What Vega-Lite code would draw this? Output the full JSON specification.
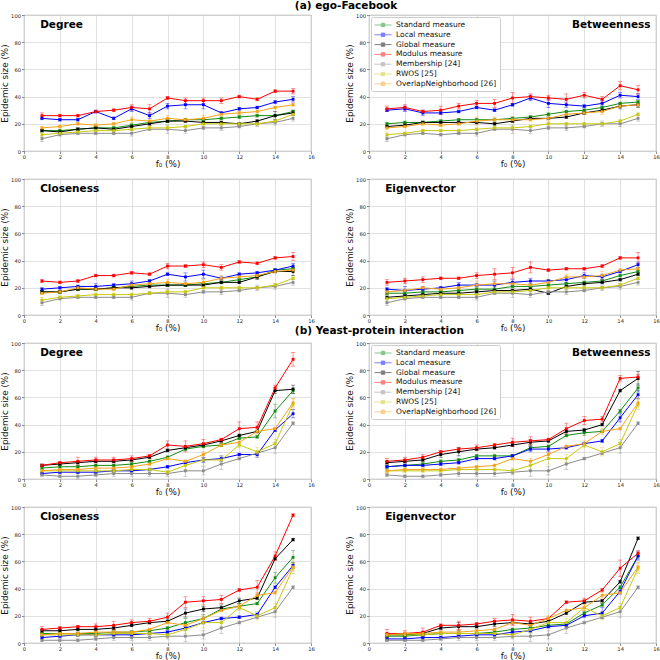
{
"$schema":"https://vega.github.io/schema/vega-lite/v6.json",
"background":"white",
"padding":{"left":0,"top":0,"right":0,"bottom":0},
"columns":2,
"bounds":"flush",
"spacing":{"row":28,"column":58},
"config":{
 "font":"DejaVu Sans",
 "view":{"stroke":"#7f7f7f","strokeWidth":0.8},
 "axis":{"grid":true,"gridColor":"#d9d9d9","gridWidth":0.8,"domain":false,"tickColor":"#444","tickSize":2.5,"tickWidth":0.6,"labelFontSize":5.2,"labelColor":"#222","labelPadding":1,"titleFontSize":8.8,"titleFontWeight":"normal","titleColor":"#111","labelFlush":false},
 "axisX":{"titlePadding":0},
 "axisY":{"titlePadding":1},
 "line":{"strokeWidth":1},
 "point":{"filled":true,"shape":"square","size":8,"opacity":1},
 "text":{"fontSize":10.5,"fontWeight":"bold","baseline":"middle","align":"left"},
 "legend":{"orient":"none","legendX":2,"legendY":2,"symbolType":"M-2,0H2M-0.4,-0.4H0.4V0.4H-0.4Z","symbolSize":72,"symbolStrokeWidth":1,"labelFontSize":7.5,"labelColor":"#111","fillColor":"white","strokeColor":"#cccccc","padding":3,"rowPadding":0.8,"symbolOffset":4,"labelOffset":8,"cornerRadius":2}
},
"data":{"values":[
{"p":"aD","s":"S","x":1,"y":15,"e":1,"n":"Degree"},{"p":"aD","s":"S","x":2,"y":15,"e":1},{"p":"aD","s":"S","x":3,"y":16,"e":1},{"p":"aD","s":"S","x":4,"y":17,"e":1},{"p":"aD","s":"S","x":5,"y":17,"e":1},{"p":"aD","s":"S","x":6,"y":19,"e":1},{"p":"aD","s":"S","x":7,"y":21,"e":1},{"p":"aD","s":"S","x":8,"y":22,"e":1},{"p":"aD","s":"S","x":9,"y":23,"e":1},{"p":"aD","s":"S","x":10,"y":23,"e":1},{"p":"aD","s":"S","x":11,"y":24,"e":1},{"p":"aD","s":"S","x":12,"y":25,"e":1},{"p":"aD","s":"S","x":13,"y":26,"e":1},{"p":"aD","s":"S","x":14,"y":26,"e":1},{"p":"aD","s":"S","x":15,"y":29,"e":1},
{"p":"aD","s":"L","x":1,"y":24,"e":1},{"p":"aD","s":"L","x":2,"y":23,"e":1},{"p":"aD","s":"L","x":3,"y":23,"e":1},{"p":"aD","s":"L","x":4,"y":29,"e":1},{"p":"aD","s":"L","x":5,"y":24,"e":1},{"p":"aD","s":"L","x":6,"y":31,"e":2},{"p":"aD","s":"L","x":7,"y":26,"e":2},{"p":"aD","s":"L","x":8,"y":33,"e":2},{"p":"aD","s":"L","x":9,"y":34,"e":3},{"p":"aD","s":"L","x":10,"y":34,"e":3},{"p":"aD","s":"L","x":11,"y":28,"e":1},{"p":"aD","s":"L","x":12,"y":31,"e":1},{"p":"aD","s":"L","x":13,"y":32,"e":1},{"p":"aD","s":"L","x":14,"y":36,"e":1},{"p":"aD","s":"L","x":15,"y":38,"e":2},
{"p":"aD","s":"G","x":1,"y":15,"e":1},{"p":"aD","s":"G","x":2,"y":14,"e":1},{"p":"aD","s":"G","x":3,"y":16,"e":1},{"p":"aD","s":"G","x":4,"y":17,"e":1},{"p":"aD","s":"G","x":5,"y":16,"e":1},{"p":"aD","s":"G","x":6,"y":18,"e":1},{"p":"aD","s":"G","x":7,"y":20,"e":1},{"p":"aD","s":"G","x":8,"y":22,"e":1},{"p":"aD","s":"G","x":9,"y":22,"e":1},{"p":"aD","s":"G","x":10,"y":21,"e":1},{"p":"aD","s":"G","x":11,"y":21,"e":1},{"p":"aD","s":"G","x":12,"y":20,"e":1},{"p":"aD","s":"G","x":13,"y":22,"e":1},{"p":"aD","s":"G","x":14,"y":26,"e":3},{"p":"aD","s":"G","x":15,"y":28,"e":2},
{"p":"aD","s":"M","x":1,"y":26,"e":2},{"p":"aD","s":"M","x":2,"y":26,"e":1},{"p":"aD","s":"M","x":3,"y":26,"e":1},{"p":"aD","s":"M","x":4,"y":29,"e":1},{"p":"aD","s":"M","x":5,"y":30,"e":1},{"p":"aD","s":"M","x":6,"y":32,"e":2},{"p":"aD","s":"M","x":7,"y":31,"e":3},{"p":"aD","s":"M","x":8,"y":39,"e":1},{"p":"aD","s":"M","x":9,"y":37,"e":2},{"p":"aD","s":"M","x":10,"y":37,"e":2},{"p":"aD","s":"M","x":11,"y":37,"e":2},{"p":"aD","s":"M","x":12,"y":40,"e":1},{"p":"aD","s":"M","x":13,"y":38,"e":1},{"p":"aD","s":"M","x":14,"y":44,"e":1},{"p":"aD","s":"M","x":15,"y":44,"e":2},
{"p":"aD","s":"B","x":1,"y":9,"e":2},{"p":"aD","s":"B","x":2,"y":12,"e":1},{"p":"aD","s":"B","x":3,"y":13,"e":1},{"p":"aD","s":"B","x":4,"y":13,"e":1},{"p":"aD","s":"B","x":5,"y":13,"e":1},{"p":"aD","s":"B","x":6,"y":13,"e":2},{"p":"aD","s":"B","x":7,"y":16,"e":1},{"p":"aD","s":"B","x":8,"y":16,"e":3},{"p":"aD","s":"B","x":9,"y":15,"e":2},{"p":"aD","s":"B","x":10,"y":17,"e":1},{"p":"aD","s":"B","x":11,"y":17,"e":2},{"p":"aD","s":"B","x":12,"y":18,"e":1},{"p":"aD","s":"B","x":13,"y":20,"e":2},{"p":"aD","s":"B","x":14,"y":21,"e":2},{"p":"aD","s":"B","x":15,"y":24,"e":2},
{"p":"aD","s":"R","x":1,"y":12,"e":2},{"p":"aD","s":"R","x":2,"y":13,"e":1},{"p":"aD","s":"R","x":3,"y":14,"e":1},{"p":"aD","s":"R","x":4,"y":15,"e":1},{"p":"aD","s":"R","x":5,"y":15,"e":1},{"p":"aD","s":"R","x":6,"y":16,"e":1},{"p":"aD","s":"R","x":7,"y":17,"e":1},{"p":"aD","s":"R","x":8,"y":17,"e":1},{"p":"aD","s":"R","x":9,"y":18,"e":1},{"p":"aD","s":"R","x":10,"y":20,"e":1},{"p":"aD","s":"R","x":11,"y":20,"e":1},{"p":"aD","s":"R","x":12,"y":20,"e":1},{"p":"aD","s":"R","x":13,"y":20,"e":1},{"p":"aD","s":"R","x":14,"y":22,"e":1},{"p":"aD","s":"R","x":15,"y":27,"e":1},
{"p":"aD","s":"O","x":1,"y":17,"e":1},{"p":"aD","s":"O","x":2,"y":18,"e":1},{"p":"aD","s":"O","x":3,"y":20,"e":1},{"p":"aD","s":"O","x":4,"y":19,"e":1},{"p":"aD","s":"O","x":5,"y":20,"e":1},{"p":"aD","s":"O","x":6,"y":23,"e":2},{"p":"aD","s":"O","x":7,"y":22,"e":3},{"p":"aD","s":"O","x":8,"y":24,"e":2},{"p":"aD","s":"O","x":9,"y":23,"e":1},{"p":"aD","s":"O","x":10,"y":24,"e":2},{"p":"aD","s":"O","x":11,"y":27,"e":2},{"p":"aD","s":"O","x":12,"y":28,"e":1},{"p":"aD","s":"O","x":13,"y":29,"e":2},{"p":"aD","s":"O","x":14,"y":32,"e":1},{"p":"aD","s":"O","x":15,"y":34,"e":1},

{"p":"aB","s":"S","x":1,"y":20,"e":1,"n":"Betweenness"},{"p":"aB","s":"S","x":2,"y":21,"e":1},{"p":"aB","s":"S","x":3,"y":21,"e":1},{"p":"aB","s":"S","x":4,"y":22,"e":1},{"p":"aB","s":"S","x":5,"y":23,"e":1},{"p":"aB","s":"S","x":6,"y":23,"e":1},{"p":"aB","s":"S","x":7,"y":23,"e":1},{"p":"aB","s":"S","x":8,"y":24,"e":1},{"p":"aB","s":"S","x":9,"y":25,"e":1},{"p":"aB","s":"S","x":10,"y":27,"e":1},{"p":"aB","s":"S","x":11,"y":29,"e":1},{"p":"aB","s":"S","x":12,"y":30,"e":1},{"p":"aB","s":"S","x":13,"y":32,"e":1},{"p":"aB","s":"S","x":14,"y":35,"e":1},{"p":"aB","s":"S","x":15,"y":36,"e":1},
{"p":"aB","s":"L","x":1,"y":30,"e":1},{"p":"aB","s":"L","x":2,"y":31,"e":2},{"p":"aB","s":"L","x":3,"y":28,"e":2},{"p":"aB","s":"L","x":4,"y":28,"e":1},{"p":"aB","s":"L","x":5,"y":29,"e":1},{"p":"aB","s":"L","x":6,"y":32,"e":1},{"p":"aB","s":"L","x":7,"y":30,"e":1},{"p":"aB","s":"L","x":8,"y":34,"e":1},{"p":"aB","s":"L","x":9,"y":39,"e":2},{"p":"aB","s":"L","x":10,"y":35,"e":3},{"p":"aB","s":"L","x":11,"y":34,"e":2},{"p":"aB","s":"L","x":12,"y":33,"e":1},{"p":"aB","s":"L","x":13,"y":35,"e":2},{"p":"aB","s":"L","x":14,"y":41,"e":2},{"p":"aB","s":"L","x":15,"y":40,"e":2},
{"p":"aB","s":"G","x":1,"y":18,"e":1},{"p":"aB","s":"G","x":2,"y":19,"e":1},{"p":"aB","s":"G","x":3,"y":21,"e":1},{"p":"aB","s":"G","x":4,"y":21,"e":1},{"p":"aB","s":"G","x":5,"y":21,"e":1},{"p":"aB","s":"G","x":6,"y":21,"e":1},{"p":"aB","s":"G","x":7,"y":20,"e":1},{"p":"aB","s":"G","x":8,"y":22,"e":1},{"p":"aB","s":"G","x":9,"y":24,"e":1},{"p":"aB","s":"G","x":10,"y":24,"e":1},{"p":"aB","s":"G","x":11,"y":25,"e":1},{"p":"aB","s":"G","x":12,"y":28,"e":1},{"p":"aB","s":"G","x":13,"y":30,"e":1},{"p":"aB","s":"G","x":14,"y":33,"e":2},{"p":"aB","s":"G","x":15,"y":34,"e":2},
{"p":"aB","s":"M","x":1,"y":31,"e":2},{"p":"aB","s":"M","x":2,"y":32,"e":2},{"p":"aB","s":"M","x":3,"y":29,"e":1},{"p":"aB","s":"M","x":4,"y":30,"e":3},{"p":"aB","s":"M","x":5,"y":33,"e":2},{"p":"aB","s":"M","x":6,"y":35,"e":2},{"p":"aB","s":"M","x":7,"y":35,"e":3},{"p":"aB","s":"M","x":8,"y":39,"e":4},{"p":"aB","s":"M","x":9,"y":40,"e":2},{"p":"aB","s":"M","x":10,"y":39,"e":2},{"p":"aB","s":"M","x":11,"y":38,"e":4},{"p":"aB","s":"M","x":12,"y":41,"e":2},{"p":"aB","s":"M","x":13,"y":38,"e":2},{"p":"aB","s":"M","x":14,"y":48,"e":3},{"p":"aB","s":"M","x":15,"y":45,"e":3},
{"p":"aB","s":"B","x":1,"y":9,"e":2},{"p":"aB","s":"B","x":2,"y":12,"e":1},{"p":"aB","s":"B","x":3,"y":13,"e":1},{"p":"aB","s":"B","x":4,"y":12,"e":1},{"p":"aB","s":"B","x":5,"y":13,"e":1},{"p":"aB","s":"B","x":6,"y":13,"e":2},{"p":"aB","s":"B","x":7,"y":16,"e":1},{"p":"aB","s":"B","x":8,"y":16,"e":3},{"p":"aB","s":"B","x":9,"y":15,"e":2},{"p":"aB","s":"B","x":10,"y":17,"e":1},{"p":"aB","s":"B","x":11,"y":17,"e":2},{"p":"aB","s":"B","x":12,"y":18,"e":1},{"p":"aB","s":"B","x":13,"y":20,"e":2},{"p":"aB","s":"B","x":14,"y":20,"e":2},{"p":"aB","s":"B","x":15,"y":24,"e":2},
{"p":"aB","s":"R","x":1,"y":12,"e":2},{"p":"aB","s":"R","x":2,"y":13,"e":1},{"p":"aB","s":"R","x":3,"y":15,"e":1},{"p":"aB","s":"R","x":4,"y":15,"e":1},{"p":"aB","s":"R","x":5,"y":15,"e":1},{"p":"aB","s":"R","x":6,"y":16,"e":1},{"p":"aB","s":"R","x":7,"y":17,"e":1},{"p":"aB","s":"R","x":8,"y":17,"e":1},{"p":"aB","s":"R","x":9,"y":18,"e":1},{"p":"aB","s":"R","x":10,"y":20,"e":1},{"p":"aB","s":"R","x":11,"y":20,"e":1},{"p":"aB","s":"R","x":12,"y":20,"e":1},{"p":"aB","s":"R","x":13,"y":20,"e":1},{"p":"aB","s":"R","x":14,"y":22,"e":1},{"p":"aB","s":"R","x":15,"y":27,"e":1},
{"p":"aB","s":"O","x":1,"y":17,"e":1},{"p":"aB","s":"O","x":2,"y":18,"e":1},{"p":"aB","s":"O","x":3,"y":20,"e":1},{"p":"aB","s":"O","x":4,"y":19,"e":1},{"p":"aB","s":"O","x":5,"y":20,"e":1},{"p":"aB","s":"O","x":6,"y":22,"e":3},{"p":"aB","s":"O","x":7,"y":23,"e":2},{"p":"aB","s":"O","x":8,"y":23,"e":2},{"p":"aB","s":"O","x":9,"y":23,"e":1},{"p":"aB","s":"O","x":10,"y":24,"e":2},{"p":"aB","s":"O","x":11,"y":27,"e":2},{"p":"aB","s":"O","x":12,"y":28,"e":1},{"p":"aB","s":"O","x":13,"y":29,"e":2},{"p":"aB","s":"O","x":14,"y":33,"e":1},{"p":"aB","s":"O","x":15,"y":34,"e":1},

{"p":"aC","s":"S","x":1,"y":17,"e":1,"n":"Closeness"},{"p":"aC","s":"S","x":2,"y":17,"e":1},{"p":"aC","s":"S","x":3,"y":19,"e":1},{"p":"aC","s":"S","x":4,"y":19,"e":1},{"p":"aC","s":"S","x":5,"y":20,"e":1},{"p":"aC","s":"S","x":6,"y":21,"e":1},{"p":"aC","s":"S","x":7,"y":22,"e":1},{"p":"aC","s":"S","x":8,"y":22,"e":1},{"p":"aC","s":"S","x":9,"y":22,"e":1},{"p":"aC","s":"S","x":10,"y":23,"e":1},{"p":"aC","s":"S","x":11,"y":24,"e":1},{"p":"aC","s":"S","x":12,"y":26,"e":1},{"p":"aC","s":"S","x":13,"y":28,"e":1},{"p":"aC","s":"S","x":14,"y":33,"e":1},{"p":"aC","s":"S","x":15,"y":34,"e":1},
{"p":"aC","s":"L","x":1,"y":19,"e":1},{"p":"aC","s":"L","x":2,"y":20,"e":1},{"p":"aC","s":"L","x":3,"y":21,"e":1},{"p":"aC","s":"L","x":4,"y":21,"e":2},{"p":"aC","s":"L","x":5,"y":22,"e":1},{"p":"aC","s":"L","x":6,"y":23,"e":2},{"p":"aC","s":"L","x":7,"y":25,"e":1},{"p":"aC","s":"L","x":8,"y":30,"e":1},{"p":"aC","s":"L","x":9,"y":28,"e":3},{"p":"aC","s":"L","x":10,"y":30,"e":3},{"p":"aC","s":"L","x":11,"y":27,"e":1},{"p":"aC","s":"L","x":12,"y":30,"e":1},{"p":"aC","s":"L","x":13,"y":31,"e":1},{"p":"aC","s":"L","x":14,"y":33,"e":1},{"p":"aC","s":"L","x":15,"y":36,"e":2},
{"p":"aC","s":"G","x":1,"y":17,"e":1},{"p":"aC","s":"G","x":2,"y":17,"e":1},{"p":"aC","s":"G","x":3,"y":19,"e":1},{"p":"aC","s":"G","x":4,"y":19,"e":1},{"p":"aC","s":"G","x":5,"y":20,"e":1},{"p":"aC","s":"G","x":6,"y":20,"e":1},{"p":"aC","s":"G","x":7,"y":21,"e":1},{"p":"aC","s":"G","x":8,"y":22,"e":1},{"p":"aC","s":"G","x":9,"y":22,"e":1},{"p":"aC","s":"G","x":10,"y":22,"e":1},{"p":"aC","s":"G","x":11,"y":24,"e":1},{"p":"aC","s":"G","x":12,"y":24,"e":1},{"p":"aC","s":"G","x":13,"y":28,"e":2},{"p":"aC","s":"G","x":14,"y":32,"e":1},{"p":"aC","s":"G","x":15,"y":32,"e":3},
{"p":"aC","s":"M","x":1,"y":25,"e":1},{"p":"aC","s":"M","x":2,"y":24,"e":1},{"p":"aC","s":"M","x":3,"y":25,"e":1},{"p":"aC","s":"M","x":4,"y":29,"e":1},{"p":"aC","s":"M","x":5,"y":29,"e":1},{"p":"aC","s":"M","x":6,"y":31,"e":1},{"p":"aC","s":"M","x":7,"y":30,"e":1},{"p":"aC","s":"M","x":8,"y":36,"e":2},{"p":"aC","s":"M","x":9,"y":36,"e":1},{"p":"aC","s":"M","x":10,"y":37,"e":2},{"p":"aC","s":"M","x":11,"y":35,"e":2},{"p":"aC","s":"M","x":12,"y":39,"e":1},{"p":"aC","s":"M","x":13,"y":38,"e":1},{"p":"aC","s":"M","x":14,"y":42,"e":1},{"p":"aC","s":"M","x":15,"y":43,"e":3},
{"p":"aC","s":"B","x":1,"y":9,"e":2},{"p":"aC","s":"B","x":2,"y":12,"e":1},{"p":"aC","s":"B","x":3,"y":13,"e":1},{"p":"aC","s":"B","x":4,"y":13,"e":1},{"p":"aC","s":"B","x":5,"y":13,"e":1},{"p":"aC","s":"B","x":6,"y":13,"e":2},{"p":"aC","s":"B","x":7,"y":16,"e":1},{"p":"aC","s":"B","x":8,"y":16,"e":3},{"p":"aC","s":"B","x":9,"y":15,"e":2},{"p":"aC","s":"B","x":10,"y":17,"e":1},{"p":"aC","s":"B","x":11,"y":17,"e":2},{"p":"aC","s":"B","x":12,"y":18,"e":1},{"p":"aC","s":"B","x":13,"y":20,"e":2},{"p":"aC","s":"B","x":14,"y":21,"e":2},{"p":"aC","s":"B","x":15,"y":24,"e":2},
{"p":"aC","s":"R","x":1,"y":11,"e":2},{"p":"aC","s":"R","x":2,"y":13,"e":1},{"p":"aC","s":"R","x":3,"y":14,"e":1},{"p":"aC","s":"R","x":4,"y":15,"e":1},{"p":"aC","s":"R","x":5,"y":15,"e":1},{"p":"aC","s":"R","x":6,"y":15,"e":1},{"p":"aC","s":"R","x":7,"y":16,"e":1},{"p":"aC","s":"R","x":8,"y":17,"e":1},{"p":"aC","s":"R","x":9,"y":17,"e":1},{"p":"aC","s":"R","x":10,"y":20,"e":1},{"p":"aC","s":"R","x":11,"y":20,"e":1},{"p":"aC","s":"R","x":12,"y":20,"e":1},{"p":"aC","s":"R","x":13,"y":20,"e":1},{"p":"aC","s":"R","x":14,"y":22,"e":1},{"p":"aC","s":"R","x":15,"y":27,"e":1},
{"p":"aC","s":"O","x":1,"y":16,"e":1},{"p":"aC","s":"O","x":2,"y":17,"e":1},{"p":"aC","s":"O","x":3,"y":20,"e":1},{"p":"aC","s":"O","x":4,"y":19,"e":1},{"p":"aC","s":"O","x":5,"y":19,"e":1},{"p":"aC","s":"O","x":6,"y":22,"e":2},{"p":"aC","s":"O","x":7,"y":23,"e":2},{"p":"aC","s":"O","x":8,"y":24,"e":2},{"p":"aC","s":"O","x":9,"y":23,"e":1},{"p":"aC","s":"O","x":10,"y":24,"e":2},{"p":"aC","s":"O","x":11,"y":27,"e":2},{"p":"aC","s":"O","x":12,"y":28,"e":1},{"p":"aC","s":"O","x":13,"y":29,"e":2},{"p":"aC","s":"O","x":14,"y":32,"e":1},{"p":"aC","s":"O","x":15,"y":33,"e":1},

{"p":"aE","s":"S","x":1,"y":16,"e":1,"n":"Eigenvector"},{"p":"aE","s":"S","x":2,"y":16,"e":1},{"p":"aE","s":"S","x":3,"y":17,"e":1},{"p":"aE","s":"S","x":4,"y":17,"e":1},{"p":"aE","s":"S","x":5,"y":18,"e":1},{"p":"aE","s":"S","x":6,"y":19,"e":1},{"p":"aE","s":"S","x":7,"y":19,"e":1},{"p":"aE","s":"S","x":8,"y":21,"e":1},{"p":"aE","s":"S","x":9,"y":21,"e":1},{"p":"aE","s":"S","x":10,"y":22,"e":1},{"p":"aE","s":"S","x":11,"y":23,"e":1},{"p":"aE","s":"S","x":12,"y":24,"e":1},{"p":"aE","s":"S","x":13,"y":25,"e":1},{"p":"aE","s":"S","x":14,"y":29,"e":1},{"p":"aE","s":"S","x":15,"y":32,"e":1},
{"p":"aE","s":"L","x":1,"y":19,"e":1},{"p":"aE","s":"L","x":2,"y":18,"e":3},{"p":"aE","s":"L","x":3,"y":19,"e":2},{"p":"aE","s":"L","x":4,"y":20,"e":1},{"p":"aE","s":"L","x":5,"y":22,"e":2},{"p":"aE","s":"L","x":6,"y":22,"e":1},{"p":"aE","s":"L","x":7,"y":22,"e":3},{"p":"aE","s":"L","x":8,"y":24,"e":2},{"p":"aE","s":"L","x":9,"y":25,"e":2},{"p":"aE","s":"L","x":10,"y":25,"e":1},{"p":"aE","s":"L","x":11,"y":26,"e":2},{"p":"aE","s":"L","x":12,"y":29,"e":2},{"p":"aE","s":"L","x":13,"y":28,"e":2},{"p":"aE","s":"L","x":14,"y":32,"e":1},{"p":"aE","s":"L","x":15,"y":37,"e":2},
{"p":"aE","s":"G","x":1,"y":13,"e":1},{"p":"aE","s":"G","x":2,"y":14,"e":1},{"p":"aE","s":"G","x":3,"y":15,"e":1},{"p":"aE","s":"G","x":4,"y":16,"e":1},{"p":"aE","s":"G","x":5,"y":16,"e":1},{"p":"aE","s":"G","x":6,"y":17,"e":1},{"p":"aE","s":"G","x":7,"y":18,"e":1},{"p":"aE","s":"G","x":8,"y":18,"e":1},{"p":"aE","s":"G","x":9,"y":19,"e":1},{"p":"aE","s":"G","x":10,"y":16,"e":1},{"p":"aE","s":"G","x":11,"y":21,"e":1},{"p":"aE","s":"G","x":12,"y":23,"e":1},{"p":"aE","s":"G","x":13,"y":24,"e":1},{"p":"aE","s":"G","x":14,"y":26,"e":1},{"p":"aE","s":"G","x":15,"y":30,"e":1},
{"p":"aE","s":"M","x":1,"y":24,"e":2},{"p":"aE","s":"M","x":2,"y":25,"e":2},{"p":"aE","s":"M","x":3,"y":26,"e":2},{"p":"aE","s":"M","x":4,"y":27,"e":1},{"p":"aE","s":"M","x":5,"y":27,"e":1},{"p":"aE","s":"M","x":6,"y":29,"e":2},{"p":"aE","s":"M","x":7,"y":30,"e":4},{"p":"aE","s":"M","x":8,"y":31,"e":4},{"p":"aE","s":"M","x":9,"y":35,"e":4},{"p":"aE","s":"M","x":10,"y":33,"e":1},{"p":"aE","s":"M","x":11,"y":34,"e":1},{"p":"aE","s":"M","x":12,"y":34,"e":1},{"p":"aE","s":"M","x":13,"y":36,"e":1},{"p":"aE","s":"M","x":14,"y":42,"e":1},{"p":"aE","s":"M","x":15,"y":42,"e":4},
{"p":"aE","s":"B","x":1,"y":9,"e":2},{"p":"aE","s":"B","x":2,"y":12,"e":1},{"p":"aE","s":"B","x":3,"y":13,"e":1},{"p":"aE","s":"B","x":4,"y":13,"e":1},{"p":"aE","s":"B","x":5,"y":13,"e":1},{"p":"aE","s":"B","x":6,"y":13,"e":2},{"p":"aE","s":"B","x":7,"y":16,"e":1},{"p":"aE","s":"B","x":8,"y":16,"e":3},{"p":"aE","s":"B","x":9,"y":15,"e":2},{"p":"aE","s":"B","x":10,"y":17,"e":1},{"p":"aE","s":"B","x":11,"y":17,"e":2},{"p":"aE","s":"B","x":12,"y":18,"e":1},{"p":"aE","s":"B","x":13,"y":20,"e":2},{"p":"aE","s":"B","x":14,"y":21,"e":2},{"p":"aE","s":"B","x":15,"y":24,"e":2},
{"p":"aE","s":"R","x":1,"y":12,"e":2},{"p":"aE","s":"R","x":2,"y":13,"e":1},{"p":"aE","s":"R","x":3,"y":14,"e":1},{"p":"aE","s":"R","x":4,"y":15,"e":1},{"p":"aE","s":"R","x":5,"y":15,"e":1},{"p":"aE","s":"R","x":6,"y":15,"e":1},{"p":"aE","s":"R","x":7,"y":17,"e":1},{"p":"aE","s":"R","x":8,"y":17,"e":1},{"p":"aE","s":"R","x":9,"y":18,"e":1},{"p":"aE","s":"R","x":10,"y":20,"e":1},{"p":"aE","s":"R","x":11,"y":20,"e":1},{"p":"aE","s":"R","x":12,"y":20,"e":1},{"p":"aE","s":"R","x":13,"y":20,"e":1},{"p":"aE","s":"R","x":14,"y":22,"e":1},{"p":"aE","s":"R","x":15,"y":27,"e":1},
{"p":"aE","s":"O","x":1,"y":17,"e":1},{"p":"aE","s":"O","x":2,"y":18,"e":1},{"p":"aE","s":"O","x":3,"y":20,"e":1},{"p":"aE","s":"O","x":4,"y":19,"e":1},{"p":"aE","s":"O","x":5,"y":20,"e":1},{"p":"aE","s":"O","x":6,"y":22,"e":3},{"p":"aE","s":"O","x":7,"y":23,"e":2},{"p":"aE","s":"O","x":8,"y":23,"e":2},{"p":"aE","s":"O","x":9,"y":22,"e":1},{"p":"aE","s":"O","x":10,"y":24,"e":2},{"p":"aE","s":"O","x":11,"y":28,"e":2},{"p":"aE","s":"O","x":12,"y":28,"e":1},{"p":"aE","s":"O","x":13,"y":29,"e":3},{"p":"aE","s":"O","x":14,"y":33,"e":1},{"p":"aE","s":"O","x":15,"y":34,"e":1},

{"p":"bD","s":"S","x":1,"y":8,"e":1,"n":"Degree"},{"p":"bD","s":"S","x":2,"y":9,"e":1},{"p":"bD","s":"S","x":3,"y":9,"e":1},{"p":"bD","s":"S","x":4,"y":10,"e":1},{"p":"bD","s":"S","x":5,"y":10,"e":1},{"p":"bD","s":"S","x":6,"y":11,"e":1},{"p":"bD","s":"S","x":7,"y":13,"e":1},{"p":"bD","s":"S","x":8,"y":16,"e":1},{"p":"bD","s":"S","x":9,"y":22,"e":1},{"p":"bD","s":"S","x":10,"y":24,"e":1},{"p":"bD","s":"S","x":11,"y":25,"e":1},{"p":"bD","s":"S","x":12,"y":30,"e":1},{"p":"bD","s":"S","x":13,"y":31,"e":1},{"p":"bD","s":"S","x":14,"y":50,"e":5},{"p":"bD","s":"S","x":15,"y":65,"e":2},
{"p":"bD","s":"L","x":1,"y":4,"e":1},{"p":"bD","s":"L","x":2,"y":5,"e":1},{"p":"bD","s":"L","x":3,"y":5,"e":1},{"p":"bD","s":"L","x":4,"y":5,"e":1},{"p":"bD","s":"L","x":5,"y":6,"e":1},{"p":"bD","s":"L","x":6,"y":6,"e":1},{"p":"bD","s":"L","x":7,"y":7,"e":1},{"p":"bD","s":"L","x":8,"y":9,"e":1},{"p":"bD","s":"L","x":9,"y":12,"e":1},{"p":"bD","s":"L","x":10,"y":14,"e":2},{"p":"bD","s":"L","x":11,"y":15,"e":2},{"p":"bD","s":"L","x":12,"y":18,"e":1},{"p":"bD","s":"L","x":13,"y":18,"e":2},{"p":"bD","s":"L","x":14,"y":36,"e":1},{"p":"bD","s":"L","x":15,"y":48,"e":3},
{"p":"bD","s":"G","x":1,"y":10,"e":1},{"p":"bD","s":"G","x":2,"y":11,"e":1},{"p":"bD","s":"G","x":3,"y":12,"e":1},{"p":"bD","s":"G","x":4,"y":13,"e":1},{"p":"bD","s":"G","x":5,"y":13,"e":1},{"p":"bD","s":"G","x":6,"y":14,"e":1},{"p":"bD","s":"G","x":7,"y":16,"e":1},{"p":"bD","s":"G","x":8,"y":21,"e":1},{"p":"bD","s":"G","x":9,"y":23,"e":1},{"p":"bD","s":"G","x":10,"y":25,"e":1},{"p":"bD","s":"G","x":11,"y":28,"e":1},{"p":"bD","s":"G","x":12,"y":32,"e":1},{"p":"bD","s":"G","x":13,"y":35,"e":1},{"p":"bD","s":"G","x":14,"y":65,"e":2},{"p":"bD","s":"G","x":15,"y":66,"e":3},
{"p":"bD","s":"M","x":1,"y":10,"e":1},{"p":"bD","s":"M","x":2,"y":12,"e":1},{"p":"bD","s":"M","x":3,"y":13,"e":3},{"p":"bD","s":"M","x":4,"y":14,"e":2},{"p":"bD","s":"M","x":5,"y":14,"e":2},{"p":"bD","s":"M","x":6,"y":15,"e":2},{"p":"bD","s":"M","x":7,"y":17,"e":1},{"p":"bD","s":"M","x":8,"y":25,"e":3},{"p":"bD","s":"M","x":9,"y":24,"e":4},{"p":"bD","s":"M","x":10,"y":26,"e":3},{"p":"bD","s":"M","x":11,"y":29,"e":1},{"p":"bD","s":"M","x":12,"y":37,"e":5},{"p":"bD","s":"M","x":13,"y":38,"e":4},{"p":"bD","s":"M","x":14,"y":67,"e":2},{"p":"bD","s":"M","x":15,"y":88,"e":5},
{"p":"bD","s":"B","x":1,"y":3,"e":1},{"p":"bD","s":"B","x":2,"y":2,"e":1},{"p":"bD","s":"B","x":3,"y":2,"e":2},{"p":"bD","s":"B","x":4,"y":3,"e":1},{"p":"bD","s":"B","x":5,"y":4,"e":2},{"p":"bD","s":"B","x":6,"y":4,"e":2},{"p":"bD","s":"B","x":7,"y":4,"e":2},{"p":"bD","s":"B","x":8,"y":4,"e":2},{"p":"bD","s":"B","x":9,"y":6,"e":4},{"p":"bD","s":"B","x":10,"y":6,"e":3},{"p":"bD","s":"B","x":11,"y":11,"e":4},{"p":"bD","s":"B","x":12,"y":15,"e":1},{"p":"bD","s":"B","x":13,"y":19,"e":1},{"p":"bD","s":"B","x":14,"y":23,"e":4},{"p":"bD","s":"B","x":15,"y":41,"e":1},
{"p":"bD","s":"R","x":1,"y":6,"e":1},{"p":"bD","s":"R","x":2,"y":6,"e":1},{"p":"bD","s":"R","x":3,"y":6,"e":1},{"p":"bD","s":"R","x":4,"y":6,"e":1},{"p":"bD","s":"R","x":5,"y":6,"e":1},{"p":"bD","s":"R","x":6,"y":7,"e":1},{"p":"bD","s":"R","x":7,"y":7,"e":1},{"p":"bD","s":"R","x":8,"y":5,"e":1},{"p":"bD","s":"R","x":9,"y":10,"e":3},{"p":"bD","s":"R","x":10,"y":14,"e":4},{"p":"bD","s":"R","x":11,"y":14,"e":3},{"p":"bD","s":"R","x":12,"y":25,"e":2},{"p":"bD","s":"R","x":13,"y":20,"e":3},{"p":"bD","s":"R","x":14,"y":26,"e":3},{"p":"bD","s":"R","x":15,"y":55,"e":4},
{"p":"bD","s":"O","x":1,"y":6,"e":1},{"p":"bD","s":"O","x":2,"y":7,"e":1},{"p":"bD","s":"O","x":3,"y":7,"e":1},{"p":"bD","s":"O","x":4,"y":8,"e":1},{"p":"bD","s":"O","x":5,"y":8,"e":1},{"p":"bD","s":"O","x":6,"y":9,"e":1},{"p":"bD","s":"O","x":7,"y":11,"e":1},{"p":"bD","s":"O","x":8,"y":15,"e":1},{"p":"bD","s":"O","x":9,"y":13,"e":1},{"p":"bD","s":"O","x":10,"y":18,"e":2},{"p":"bD","s":"O","x":11,"y":25,"e":1},{"p":"bD","s":"O","x":12,"y":27,"e":2},{"p":"bD","s":"O","x":13,"y":35,"e":2},{"p":"bD","s":"O","x":14,"y":37,"e":1},{"p":"bD","s":"O","x":15,"y":56,"e":3},

{"p":"bB","s":"S","x":1,"y":9,"e":1,"n":"Betweenness"},{"p":"bB","s":"S","x":2,"y":10,"e":1},{"p":"bB","s":"S","x":3,"y":11,"e":1},{"p":"bB","s":"S","x":4,"y":13,"e":1},{"p":"bB","s":"S","x":5,"y":14,"e":1},{"p":"bB","s":"S","x":6,"y":17,"e":1},{"p":"bB","s":"S","x":7,"y":17,"e":1},{"p":"bB","s":"S","x":8,"y":17,"e":1},{"p":"bB","s":"S","x":9,"y":23,"e":2},{"p":"bB","s":"S","x":10,"y":24,"e":1},{"p":"bB","s":"S","x":11,"y":32,"e":1},{"p":"bB","s":"S","x":12,"y":34,"e":2},{"p":"bB","s":"S","x":13,"y":35,"e":1},{"p":"bB","s":"S","x":14,"y":50,"e":1},{"p":"bB","s":"S","x":15,"y":67,"e":3},
{"p":"bB","s":"L","x":1,"y":9,"e":1},{"p":"bB","s":"L","x":2,"y":10,"e":1},{"p":"bB","s":"L","x":3,"y":10,"e":1},{"p":"bB","s":"L","x":4,"y":11,"e":1},{"p":"bB","s":"L","x":5,"y":12,"e":1},{"p":"bB","s":"L","x":6,"y":15,"e":1},{"p":"bB","s":"L","x":7,"y":15,"e":1},{"p":"bB","s":"L","x":8,"y":17,"e":1},{"p":"bB","s":"L","x":9,"y":22,"e":2},{"p":"bB","s":"L","x":10,"y":22,"e":2},{"p":"bB","s":"L","x":11,"y":23,"e":1},{"p":"bB","s":"L","x":12,"y":26,"e":1},{"p":"bB","s":"L","x":13,"y":28,"e":1},{"p":"bB","s":"L","x":14,"y":45,"e":3},{"p":"bB","s":"L","x":15,"y":62,"e":3},
{"p":"bB","s":"G","x":1,"y":12,"e":1},{"p":"bB","s":"G","x":2,"y":13,"e":1},{"p":"bB","s":"G","x":3,"y":14,"e":1},{"p":"bB","s":"G","x":4,"y":18,"e":2},{"p":"bB","s":"G","x":5,"y":20,"e":3},{"p":"bB","s":"G","x":6,"y":22,"e":1},{"p":"bB","s":"G","x":7,"y":23,"e":1},{"p":"bB","s":"G","x":8,"y":25,"e":1},{"p":"bB","s":"G","x":9,"y":27,"e":2},{"p":"bB","s":"G","x":10,"y":28,"e":1},{"p":"bB","s":"G","x":11,"y":35,"e":1},{"p":"bB","s":"G","x":12,"y":36,"e":1},{"p":"bB","s":"G","x":13,"y":40,"e":1},{"p":"bB","s":"G","x":14,"y":65,"e":1},{"p":"bB","s":"G","x":15,"y":74,"e":5},
{"p":"bB","s":"M","x":1,"y":13,"e":2},{"p":"bB","s":"M","x":2,"y":14,"e":2},{"p":"bB","s":"M","x":3,"y":16,"e":2},{"p":"bB","s":"M","x":4,"y":20,"e":1},{"p":"bB","s":"M","x":5,"y":22,"e":1},{"p":"bB","s":"M","x":6,"y":23,"e":2},{"p":"bB","s":"M","x":7,"y":25,"e":1},{"p":"bB","s":"M","x":8,"y":27,"e":3},{"p":"bB","s":"M","x":9,"y":28,"e":3},{"p":"bB","s":"M","x":10,"y":29,"e":1},{"p":"bB","s":"M","x":11,"y":37,"e":4},{"p":"bB","s":"M","x":12,"y":43,"e":3},{"p":"bB","s":"M","x":13,"y":44,"e":2},{"p":"bB","s":"M","x":14,"y":74,"e":2},{"p":"bB","s":"M","x":15,"y":75,"e":2},
{"p":"bB","s":"B","x":1,"y":3,"e":1},{"p":"bB","s":"B","x":2,"y":2,"e":1},{"p":"bB","s":"B","x":3,"y":2,"e":1},{"p":"bB","s":"B","x":4,"y":3,"e":1},{"p":"bB","s":"B","x":5,"y":4,"e":2},{"p":"bB","s":"B","x":6,"y":4,"e":2},{"p":"bB","s":"B","x":7,"y":4,"e":2},{"p":"bB","s":"B","x":8,"y":5,"e":2},{"p":"bB","s":"B","x":9,"y":6,"e":4},{"p":"bB","s":"B","x":10,"y":6,"e":3},{"p":"bB","s":"B","x":11,"y":11,"e":4},{"p":"bB","s":"B","x":12,"y":15,"e":1},{"p":"bB","s":"B","x":13,"y":19,"e":1},{"p":"bB","s":"B","x":14,"y":23,"e":4},{"p":"bB","s":"B","x":15,"y":41,"e":1},
{"p":"bB","s":"R","x":1,"y":6,"e":1},{"p":"bB","s":"R","x":2,"y":6,"e":1},{"p":"bB","s":"R","x":3,"y":6,"e":1},{"p":"bB","s":"R","x":4,"y":6,"e":1},{"p":"bB","s":"R","x":5,"y":7,"e":1},{"p":"bB","s":"R","x":6,"y":7,"e":1},{"p":"bB","s":"R","x":7,"y":7,"e":1},{"p":"bB","s":"R","x":8,"y":6,"e":2},{"p":"bB","s":"R","x":9,"y":10,"e":3},{"p":"bB","s":"R","x":10,"y":15,"e":4},{"p":"bB","s":"R","x":11,"y":15,"e":3},{"p":"bB","s":"R","x":12,"y":25,"e":2},{"p":"bB","s":"R","x":13,"y":20,"e":3},{"p":"bB","s":"R","x":14,"y":26,"e":3},{"p":"bB","s":"R","x":15,"y":55,"e":4},
{"p":"bB","s":"O","x":1,"y":6,"e":1},{"p":"bB","s":"O","x":2,"y":7,"e":1},{"p":"bB","s":"O","x":3,"y":7,"e":1},{"p":"bB","s":"O","x":4,"y":7,"e":1},{"p":"bB","s":"O","x":5,"y":8,"e":1},{"p":"bB","s":"O","x":6,"y":9,"e":1},{"p":"bB","s":"O","x":7,"y":10,"e":1},{"p":"bB","s":"O","x":8,"y":15,"e":1},{"p":"bB","s":"O","x":9,"y":13,"e":2},{"p":"bB","s":"O","x":10,"y":18,"e":2},{"p":"bB","s":"O","x":11,"y":24,"e":1},{"p":"bB","s":"O","x":12,"y":26,"e":2},{"p":"bB","s":"O","x":13,"y":35,"e":2},{"p":"bB","s":"O","x":14,"y":37,"e":1},{"p":"bB","s":"O","x":15,"y":56,"e":3},

{"p":"bC","s":"S","x":1,"y":7,"e":1,"n":"Closeness"},{"p":"bC","s":"S","x":2,"y":7,"e":1},{"p":"bC","s":"S","x":3,"y":7,"e":1},{"p":"bC","s":"S","x":4,"y":7,"e":1},{"p":"bC","s":"S","x":5,"y":8,"e":1},{"p":"bC","s":"S","x":6,"y":8,"e":1},{"p":"bC","s":"S","x":7,"y":9,"e":1},{"p":"bC","s":"S","x":8,"y":11,"e":1},{"p":"bC","s":"S","x":9,"y":15,"e":3},{"p":"bC","s":"S","x":10,"y":18,"e":3},{"p":"bC","s":"S","x":11,"y":25,"e":1},{"p":"bC","s":"S","x":12,"y":27,"e":2},{"p":"bC","s":"S","x":13,"y":29,"e":1},{"p":"bC","s":"S","x":14,"y":48,"e":4},{"p":"bC","s":"S","x":15,"y":63,"e":5},
{"p":"bC","s":"L","x":1,"y":4,"e":1},{"p":"bC","s":"L","x":2,"y":5,"e":1},{"p":"bC","s":"L","x":3,"y":6,"e":1},{"p":"bC","s":"L","x":4,"y":6,"e":1},{"p":"bC","s":"L","x":5,"y":6,"e":1},{"p":"bC","s":"L","x":6,"y":6,"e":1},{"p":"bC","s":"L","x":7,"y":7,"e":1},{"p":"bC","s":"L","x":8,"y":8,"e":1},{"p":"bC","s":"L","x":9,"y":11,"e":1},{"p":"bC","s":"L","x":10,"y":15,"e":1},{"p":"bC","s":"L","x":11,"y":18,"e":1},{"p":"bC","s":"L","x":12,"y":19,"e":1},{"p":"bC","s":"L","x":13,"y":21,"e":1},{"p":"bC","s":"L","x":14,"y":41,"e":1},{"p":"bC","s":"L","x":15,"y":57,"e":2},
{"p":"bC","s":"G","x":1,"y":9,"e":1},{"p":"bC","s":"G","x":2,"y":9,"e":1},{"p":"bC","s":"G","x":3,"y":10,"e":1},{"p":"bC","s":"G","x":4,"y":10,"e":1},{"p":"bC","s":"G","x":5,"y":11,"e":1},{"p":"bC","s":"G","x":6,"y":13,"e":1},{"p":"bC","s":"G","x":7,"y":15,"e":1},{"p":"bC","s":"G","x":8,"y":16,"e":1},{"p":"bC","s":"G","x":9,"y":22,"e":3},{"p":"bC","s":"G","x":10,"y":25,"e":2},{"p":"bC","s":"G","x":11,"y":26,"e":2},{"p":"bC","s":"G","x":12,"y":31,"e":2},{"p":"bC","s":"G","x":13,"y":33,"e":1},{"p":"bC","s":"G","x":14,"y":62,"e":1},{"p":"bC","s":"G","x":15,"y":76,"e":1},
{"p":"bC","s":"M","x":1,"y":10,"e":2},{"p":"bC","s":"M","x":2,"y":11,"e":1},{"p":"bC","s":"M","x":3,"y":12,"e":1},{"p":"bC","s":"M","x":4,"y":12,"e":2},{"p":"bC","s":"M","x":5,"y":13,"e":3},{"p":"bC","s":"M","x":6,"y":15,"e":2},{"p":"bC","s":"M","x":7,"y":16,"e":2},{"p":"bC","s":"M","x":8,"y":19,"e":3},{"p":"bC","s":"M","x":9,"y":30,"e":4},{"p":"bC","s":"M","x":10,"y":31,"e":3},{"p":"bC","s":"M","x":11,"y":32,"e":3},{"p":"bC","s":"M","x":12,"y":39,"e":1},{"p":"bC","s":"M","x":13,"y":41,"e":5},{"p":"bC","s":"M","x":14,"y":64,"e":3},{"p":"bC","s":"M","x":15,"y":94,"e":1},
{"p":"bC","s":"B","x":1,"y":2,"e":1},{"p":"bC","s":"B","x":2,"y":2,"e":1},{"p":"bC","s":"B","x":3,"y":2,"e":1},{"p":"bC","s":"B","x":4,"y":3,"e":1},{"p":"bC","s":"B","x":5,"y":4,"e":2},{"p":"bC","s":"B","x":6,"y":4,"e":2},{"p":"bC","s":"B","x":7,"y":4,"e":2},{"p":"bC","s":"B","x":8,"y":5,"e":2},{"p":"bC","s":"B","x":9,"y":5,"e":4},{"p":"bC","s":"B","x":10,"y":6,"e":3},{"p":"bC","s":"B","x":11,"y":11,"e":4},{"p":"bC","s":"B","x":12,"y":15,"e":1},{"p":"bC","s":"B","x":13,"y":19,"e":1},{"p":"bC","s":"B","x":14,"y":23,"e":4},{"p":"bC","s":"B","x":15,"y":41,"e":1},
{"p":"bC","s":"R","x":1,"y":6,"e":1},{"p":"bC","s":"R","x":2,"y":6,"e":1},{"p":"bC","s":"R","x":3,"y":6,"e":1},{"p":"bC","s":"R","x":4,"y":6,"e":1},{"p":"bC","s":"R","x":5,"y":7,"e":1},{"p":"bC","s":"R","x":6,"y":7,"e":1},{"p":"bC","s":"R","x":7,"y":7,"e":1},{"p":"bC","s":"R","x":8,"y":6,"e":2},{"p":"bC","s":"R","x":9,"y":10,"e":3},{"p":"bC","s":"R","x":10,"y":15,"e":4},{"p":"bC","s":"R","x":11,"y":15,"e":3},{"p":"bC","s":"R","x":12,"y":26,"e":2},{"p":"bC","s":"R","x":13,"y":20,"e":3},{"p":"bC","s":"R","x":14,"y":26,"e":3},{"p":"bC","s":"R","x":15,"y":55,"e":4},
{"p":"bC","s":"O","x":1,"y":6,"e":1},{"p":"bC","s":"O","x":2,"y":7,"e":1},{"p":"bC","s":"O","x":3,"y":7,"e":1},{"p":"bC","s":"O","x":4,"y":8,"e":1},{"p":"bC","s":"O","x":5,"y":8,"e":1},{"p":"bC","s":"O","x":6,"y":8,"e":1},{"p":"bC","s":"O","x":7,"y":10,"e":1},{"p":"bC","s":"O","x":8,"y":15,"e":1},{"p":"bC","s":"O","x":9,"y":13,"e":2},{"p":"bC","s":"O","x":10,"y":18,"e":2},{"p":"bC","s":"O","x":11,"y":24,"e":1},{"p":"bC","s":"O","x":12,"y":27,"e":2},{"p":"bC","s":"O","x":13,"y":35,"e":2},{"p":"bC","s":"O","x":14,"y":37,"e":1},{"p":"bC","s":"O","x":15,"y":56,"e":3},

{"p":"bE","s":"S","x":1,"y":5,"e":1,"n":"Eigenvector"},{"p":"bE","s":"S","x":2,"y":5,"e":1},{"p":"bE","s":"S","x":3,"y":6,"e":1},{"p":"bE","s":"S","x":4,"y":7,"e":1},{"p":"bE","s":"S","x":5,"y":7,"e":1},{"p":"bE","s":"S","x":6,"y":7,"e":1},{"p":"bE","s":"S","x":7,"y":8,"e":1},{"p":"bE","s":"S","x":8,"y":10,"e":1},{"p":"bE","s":"S","x":9,"y":11,"e":1},{"p":"bE","s":"S","x":10,"y":13,"e":1},{"p":"bE","s":"S","x":11,"y":14,"e":1},{"p":"bE","s":"S","x":12,"y":22,"e":1},{"p":"bE","s":"S","x":13,"y":28,"e":1},{"p":"bE","s":"S","x":14,"y":41,"e":1},{"p":"bE","s":"S","x":15,"y":64,"e":2},
{"p":"bE","s":"L","x":1,"y":3,"e":1},{"p":"bE","s":"L","x":2,"y":3,"e":1},{"p":"bE","s":"L","x":3,"y":4,"e":1},{"p":"bE","s":"L","x":4,"y":4,"e":1},{"p":"bE","s":"L","x":5,"y":5,"e":1},{"p":"bE","s":"L","x":6,"y":6,"e":1},{"p":"bE","s":"L","x":7,"y":6,"e":1},{"p":"bE","s":"L","x":8,"y":8,"e":1},{"p":"bE","s":"L","x":9,"y":9,"e":1},{"p":"bE","s":"L","x":10,"y":12,"e":1},{"p":"bE","s":"L","x":11,"y":13,"e":1},{"p":"bE","s":"L","x":12,"y":20,"e":1},{"p":"bE","s":"L","x":13,"y":22,"e":4},{"p":"bE","s":"L","x":14,"y":38,"e":2},{"p":"bE","s":"L","x":15,"y":64,"e":3},
{"p":"bE","s":"G","x":1,"y":6,"e":1},{"p":"bE","s":"G","x":2,"y":6,"e":1},{"p":"bE","s":"G","x":3,"y":7,"e":1},{"p":"bE","s":"G","x":4,"y":11,"e":1},{"p":"bE","s":"G","x":5,"y":12,"e":3},{"p":"bE","s":"G","x":6,"y":12,"e":1},{"p":"bE","s":"G","x":7,"y":14,"e":2},{"p":"bE","s":"G","x":8,"y":15,"e":1},{"p":"bE","s":"G","x":9,"y":14,"e":1},{"p":"bE","s":"G","x":10,"y":16,"e":1},{"p":"bE","s":"G","x":11,"y":22,"e":1},{"p":"bE","s":"G","x":12,"y":30,"e":1},{"p":"bE","s":"G","x":13,"y":31,"e":1},{"p":"bE","s":"G","x":14,"y":45,"e":1},{"p":"bE","s":"G","x":15,"y":77,"e":1},
{"p":"bE","s":"M","x":1,"y":7,"e":3},{"p":"bE","s":"M","x":2,"y":7,"e":2},{"p":"bE","s":"M","x":3,"y":8,"e":3},{"p":"bE","s":"M","x":4,"y":13,"e":1},{"p":"bE","s":"M","x":5,"y":13,"e":3},{"p":"bE","s":"M","x":6,"y":14,"e":1},{"p":"bE","s":"M","x":7,"y":16,"e":2},{"p":"bE","s":"M","x":8,"y":17,"e":4},{"p":"bE","s":"M","x":9,"y":16,"e":3},{"p":"bE","s":"M","x":10,"y":18,"e":1},{"p":"bE","s":"M","x":11,"y":30,"e":1},{"p":"bE","s":"M","x":12,"y":31,"e":2},{"p":"bE","s":"M","x":13,"y":39,"e":1},{"p":"bE","s":"M","x":14,"y":55,"e":6},{"p":"bE","s":"M","x":15,"y":66,"e":2},
{"p":"bE","s":"B","x":1,"y":2,"e":1},{"p":"bE","s":"B","x":2,"y":2,"e":1},{"p":"bE","s":"B","x":3,"y":2,"e":1},{"p":"bE","s":"B","x":4,"y":3,"e":1},{"p":"bE","s":"B","x":5,"y":4,"e":2},{"p":"bE","s":"B","x":6,"y":4,"e":2},{"p":"bE","s":"B","x":7,"y":4,"e":2},{"p":"bE","s":"B","x":8,"y":5,"e":2},{"p":"bE","s":"B","x":9,"y":5,"e":4},{"p":"bE","s":"B","x":10,"y":6,"e":3},{"p":"bE","s":"B","x":11,"y":11,"e":4},{"p":"bE","s":"B","x":12,"y":15,"e":1},{"p":"bE","s":"B","x":13,"y":19,"e":1},{"p":"bE","s":"B","x":14,"y":23,"e":4},{"p":"bE","s":"B","x":15,"y":41,"e":1},
{"p":"bE","s":"R","x":1,"y":6,"e":1},{"p":"bE","s":"R","x":2,"y":6,"e":1},{"p":"bE","s":"R","x":3,"y":6,"e":1},{"p":"bE","s":"R","x":4,"y":7,"e":1},{"p":"bE","s":"R","x":5,"y":7,"e":1},{"p":"bE","s":"R","x":6,"y":7,"e":1},{"p":"bE","s":"R","x":7,"y":7,"e":1},{"p":"bE","s":"R","x":8,"y":6,"e":2},{"p":"bE","s":"R","x":9,"y":10,"e":3},{"p":"bE","s":"R","x":10,"y":15,"e":4},{"p":"bE","s":"R","x":11,"y":15,"e":3},{"p":"bE","s":"R","x":12,"y":26,"e":2},{"p":"bE","s":"R","x":13,"y":20,"e":3},{"p":"bE","s":"R","x":14,"y":26,"e":3},{"p":"bE","s":"R","x":15,"y":55,"e":4},
{"p":"bE","s":"O","x":1,"y":6,"e":1},{"p":"bE","s":"O","x":2,"y":7,"e":1},{"p":"bE","s":"O","x":3,"y":7,"e":1},{"p":"bE","s":"O","x":4,"y":8,"e":1},{"p":"bE","s":"O","x":5,"y":8,"e":1},{"p":"bE","s":"O","x":6,"y":9,"e":1},{"p":"bE","s":"O","x":7,"y":10,"e":1},{"p":"bE","s":"O","x":8,"y":15,"e":1},{"p":"bE","s":"O","x":9,"y":13,"e":2},{"p":"bE","s":"O","x":10,"y":18,"e":2},{"p":"bE","s":"O","x":11,"y":24,"e":1},{"p":"bE","s":"O","x":12,"y":26,"e":2},{"p":"bE","s":"O","x":13,"y":35,"e":2},{"p":"bE","s":"O","x":14,"y":37,"e":1},{"p":"bE","s":"O","x":15,"y":56,"e":3}
]},
"concat":[
{"width":287,"height":136,"transform":[{"filter":"datum.p=='aD'"}],
 "encoding":{"x":{"field":"x","type":"quantitative","scale":{"domain":[0,16]},"axis":{"values":[0,2,4,6,8,10,12,14,16],"title":"f₀ (%)"}},"y":{"field":"y","type":"quantitative","scale":{"domain":[0,100]},"axis":{"values":[0,20,40,60,80,100],"title":"Epidemic size (%)"}},"color":{"field":"s","type":"nominal","scale":{"domain":["S","L","G","M","B","R","O"],"range":["#138a13","#0000ff","#000000","#ff0000","#8c8c8c","#c8c810","#f5a31a"]},"legend":null}},
 "layer":[{"mark":{"type":"errorbar","ticks":{"size":4},"opacity":0.5,"thickness":0.8},"encoding":{"yError":{"field":"e"}}},{"mark":"line"},{"mark":"point"},
  {"transform":[{"filter":"isValid(datum.n)"}],"mark":"text","encoding":{"x":{"datum":0.9},"y":{"datum":92.5},"text":{"field":"n"},"color":{"value":"#000"}}},
  {"transform":[{"filter":"isValid(datum.n)"}],"mark":"text","encoding":{"x":{"datum":15.1},"y":{"datum":106.6},"text":{"value":"(a)  ego-Facebook"},"color":{"value":"#000"}}}]},
{"width":287,"height":136,"transform":[{"filter":"datum.p=='aB'"}],
 "encoding":{"x":{"field":"x","type":"quantitative","scale":{"domain":[0,16]},"axis":{"values":[0,2,4,6,8,10,12,14,16],"title":"f₀ (%)"}},"y":{"field":"y","type":"quantitative","scale":{"domain":[0,100]},"axis":{"values":[0,20,40,60,80,100],"title":"Epidemic size (%)"}},"color":{"field":"s","type":"nominal","scale":{"domain":["S","L","G","M","B","R","O"],"range":["#138a13","#0000ff","#000000","#ff0000","#8c8c8c","#c8c810","#f5a31a"]},"legend":{"title":null,"labelExpr":"datum.label=='S'?'Standard measure':datum.label=='L'?'Local measure':datum.label=='G'?'Global measure':datum.label=='M'?'Modulus measure':datum.label=='B'?'Membership [24]':datum.label=='R'?'RWOS [25]':'OverlapNeighborhood [26]'"}}},
 "layer":[{"mark":{"type":"errorbar","ticks":{"size":4},"opacity":0.5,"thickness":0.8},"encoding":{"yError":{"field":"e"}}},{"mark":"line"},{"mark":"point"},
  {"transform":[{"filter":"isValid(datum.n)"}],"mark":{"type":"text","align":"right"},"encoding":{"x":{"datum":15.7},"y":{"datum":92.5},"text":{"field":"n"},"color":{"value":"#000"}}}]},
{"width":287,"height":136,"transform":[{"filter":"datum.p=='aC'"}],
 "encoding":{"x":{"field":"x","type":"quantitative","scale":{"domain":[0,16]},"axis":{"values":[0,2,4,6,8,10,12,14,16],"title":"f₀ (%)"}},"y":{"field":"y","type":"quantitative","scale":{"domain":[0,100]},"axis":{"values":[0,20,40,60,80,100],"title":"Epidemic size (%)"}},"color":{"field":"s","type":"nominal","scale":{"domain":["S","L","G","M","B","R","O"],"range":["#138a13","#0000ff","#000000","#ff0000","#8c8c8c","#c8c810","#f5a31a"]},"legend":null}},
 "layer":[{"mark":{"type":"errorbar","ticks":{"size":4},"opacity":0.5,"thickness":0.8},"encoding":{"yError":{"field":"e"}}},{"mark":"line"},{"mark":"point"},
  {"transform":[{"filter":"isValid(datum.n)"}],"mark":"text","encoding":{"x":{"datum":0.9},"y":{"datum":92.5},"text":{"field":"n"},"color":{"value":"#000"}}},
  {"transform":[{"filter":"isValid(datum.n)"}],"mark":"text","encoding":{"x":{"datum":15.1},"y":{"datum":-11.8},"text":{"value":"(b)  Yeast-protein interaction"},"color":{"value":"#000"}}}]},
{"width":287,"height":136,"transform":[{"filter":"datum.p=='aE'"}],
 "encoding":{"x":{"field":"x","type":"quantitative","scale":{"domain":[0,16]},"axis":{"values":[0,2,4,6,8,10,12,14,16],"title":"f₀ (%)"}},"y":{"field":"y","type":"quantitative","scale":{"domain":[0,100]},"axis":{"values":[0,20,40,60,80,100],"title":"Epidemic size (%)"}},"color":{"field":"s","type":"nominal","scale":{"domain":["S","L","G","M","B","R","O"],"range":["#138a13","#0000ff","#000000","#ff0000","#8c8c8c","#c8c810","#f5a31a"]},"legend":null}},
 "layer":[{"mark":{"type":"errorbar","ticks":{"size":4},"opacity":0.5,"thickness":0.8},"encoding":{"yError":{"field":"e"}}},{"mark":"line"},{"mark":"point"},
  {"transform":[{"filter":"isValid(datum.n)"}],"mark":"text","encoding":{"x":{"datum":0.9},"y":{"datum":92.5},"text":{"field":"n"},"color":{"value":"#000"}}}]},
{"width":287,"height":136,"transform":[{"filter":"datum.p=='bD'"}],
 "encoding":{"x":{"field":"x","type":"quantitative","scale":{"domain":[0,16]},"axis":{"values":[0,2,4,6,8,10,12,14,16],"title":"f₀ (%)"}},"y":{"field":"y","type":"quantitative","scale":{"domain":[0,100]},"axis":{"values":[0,20,40,60,80,100],"title":"Epidemic size (%)"}},"color":{"field":"s","type":"nominal","scale":{"domain":["S","L","G","M","B","R","O"],"range":["#138a13","#0000ff","#000000","#ff0000","#8c8c8c","#c8c810","#f5a31a"]},"legend":null}},
 "layer":[{"mark":{"type":"errorbar","ticks":{"size":4},"opacity":0.5,"thickness":0.8},"encoding":{"yError":{"field":"e"}}},{"mark":"line"},{"mark":"point"},
  {"transform":[{"filter":"isValid(datum.n)"}],"mark":"text","encoding":{"x":{"datum":0.9},"y":{"datum":92.5},"text":{"field":"n"},"color":{"value":"#000"}}}]},
{"width":287,"height":136,"transform":[{"filter":"datum.p=='bB'"}],
 "encoding":{"x":{"field":"x","type":"quantitative","scale":{"domain":[0,16]},"axis":{"values":[0,2,4,6,8,10,12,14,16],"title":"f₀ (%)"}},"y":{"field":"y","type":"quantitative","scale":{"domain":[0,100]},"axis":{"values":[0,20,40,60,80,100],"title":"Epidemic size (%)"}},"color":{"field":"s","type":"nominal","scale":{"domain":["S","L","G","M","B","R","O"],"range":["#138a13","#0000ff","#000000","#ff0000","#8c8c8c","#c8c810","#f5a31a"]},"legend":{"title":null,"labelExpr":"datum.label=='S'?'Standard measure':datum.label=='L'?'Local measure':datum.label=='G'?'Global measure':datum.label=='M'?'Modulus measure':datum.label=='B'?'Membership [24]':datum.label=='R'?'RWOS [25]':'OverlapNeighborhood [26]'"}}},
 "layer":[{"mark":{"type":"errorbar","ticks":{"size":4},"opacity":0.5,"thickness":0.8},"encoding":{"yError":{"field":"e"}}},{"mark":"line"},{"mark":"point"},
  {"transform":[{"filter":"isValid(datum.n)"}],"mark":{"type":"text","align":"right"},"encoding":{"x":{"datum":15.7},"y":{"datum":92.5},"text":{"field":"n"},"color":{"value":"#000"}}}]},
{"width":287,"height":136,"transform":[{"filter":"datum.p=='bC'"}],
 "encoding":{"x":{"field":"x","type":"quantitative","scale":{"domain":[0,16]},"axis":{"values":[0,2,4,6,8,10,12,14,16],"title":"f₀ (%)"}},"y":{"field":"y","type":"quantitative","scale":{"domain":[0,100]},"axis":{"values":[0,20,40,60,80,100],"title":"Epidemic size (%)"}},"color":{"field":"s","type":"nominal","scale":{"domain":["S","L","G","M","B","R","O"],"range":["#138a13","#0000ff","#000000","#ff0000","#8c8c8c","#c8c810","#f5a31a"]},"legend":null}},
 "layer":[{"mark":{"type":"errorbar","ticks":{"size":4},"opacity":0.5,"thickness":0.8},"encoding":{"yError":{"field":"e"}}},{"mark":"line"},{"mark":"point"},
  {"transform":[{"filter":"isValid(datum.n)"}],"mark":"text","encoding":{"x":{"datum":0.9},"y":{"datum":92.5},"text":{"field":"n"},"color":{"value":"#000"}}}]},
{"width":287,"height":136,"transform":[{"filter":"datum.p=='bE'"}],
 "encoding":{"x":{"field":"x","type":"quantitative","scale":{"domain":[0,16]},"axis":{"values":[0,2,4,6,8,10,12,14,16],"title":"f₀ (%)"}},"y":{"field":"y","type":"quantitative","scale":{"domain":[0,100]},"axis":{"values":[0,20,40,60,80,100],"title":"Epidemic size (%)"}},"color":{"field":"s","type":"nominal","scale":{"domain":["S","L","G","M","B","R","O"],"range":["#138a13","#0000ff","#000000","#ff0000","#8c8c8c","#c8c810","#f5a31a"]},"legend":null}},
 "layer":[{"mark":{"type":"errorbar","ticks":{"size":4},"opacity":0.5,"thickness":0.8},"encoding":{"yError":{"field":"e"}}},{"mark":"line"},{"mark":"point"},
  {"transform":[{"filter":"isValid(datum.n)"}],"mark":"text","encoding":{"x":{"datum":0.9},"y":{"datum":92.5},"text":{"field":"n"},"color":{"value":"#000"}}}]}
],
"resolve":{"legend":{"color":"independent"}}
}
